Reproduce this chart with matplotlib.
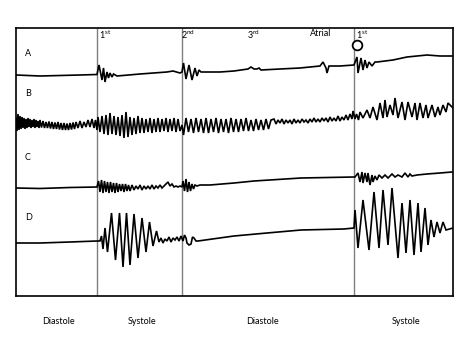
import matplotlib
matplotlib.use('Agg')
import matplotlib.pyplot as plt

plt.rcParams['font.family'] = ['Lato', 'DejaVu Sans']
plt.rcParams['mathtext.fontset'] = 'custom'
plt.rcParams['mathtext.rm'] = 'Lato'

# traces: (time, level) pairs, level grows downward
trace_a = [(16, 75), (40, 76), (60, 75.5), (80, 75), (97, 74.5), (99, 65), (102, 80),
           (103.5, 68), (105, 82), (107, 72), (108.5, 78), (110, 73), (112, 77), (113.5, 74),
           (117, 76), (140, 74), (167, 72), (173, 71), (180, 73), (182, 72), (183.5, 63),
           (186, 79), (189, 65), (192, 80), (195, 68), (197, 76), (199, 70), (201, 72),
           (205, 72), (220, 72), (234, 71), (248, 69), (251, 67), (254, 69), (257, 69),
           (259, 68), (261, 70), (280, 69), (300, 68), (320, 66), (323, 62), (326, 68),
           (327, 73), (329, 66), (340, 66), (354, 65), (357, 57), (358, 73), (361, 58),
           (363, 70), (365, 60), (367, 68), (369, 62), (372, 66), (375, 62), (377, 62),
           (393, 60), (407, 57), (427, 55), (440, 56), (453, 56)]

trace_b = [(16, 118), (17, 131), (18, 114), (19, 130), (20, 116), (21, 129), (22, 117),
           (23, 128), (24, 118), (25, 129), (26, 119), (27, 128), (28, 118), (29, 127),
           (30, 119), (31, 128), (32, 120), (33, 127), (34, 119), (35, 128), (36, 120),
           (37, 127), (38, 121), (39, 128), (40, 120), (41.5, 127.5), (43, 121), (44.5, 128),
           (46, 122), (47.5, 128), (49, 121.5), (50.5, 128.5), (52, 122), (53.5, 129),
           (55, 122.5), (56.5, 129), (58, 122), (59.5, 129.5), (61, 123), (62.5, 130),
           (64, 123), (65.5, 130), (67, 123.5), (68.5, 130), (70, 123), (71.5, 129.5),
           (73, 122.5), (74.5, 129), (76, 122), (78, 128), (80, 121), (82, 128), (84, 122),
           (86, 127), (88, 120), (90, 127), (92, 119), (94, 128), (95.5, 120), (97, 130),
           (98, 117), (100, 132), (102, 116), (104, 134), (106, 115), (108, 135), (110, 113),
           (112, 134), (114, 116), (116, 135), (118, 117), (120, 136), (122, 115), (124, 138),
           (126, 112), (128, 137), (130, 117), (132, 135), (134, 118), (136, 134), (138, 116),
           (140, 133), (142, 118), (144, 133), (146, 119), (148, 132), (150, 118), (152, 133),
           (154, 119), (156, 132), (158, 118), (160, 132), (162, 119), (164, 131), (166, 118),
           (168, 132), (170, 119), (172, 131), (174, 118), (176, 132), (178, 119), (180, 131),
           (182, 125), (183.5, 135), (186, 118), (188.5, 132), (191, 119), (193.5, 133),
           (196, 118), (198.5, 132), (201, 119), (203.5, 133), (206, 118), (208.5, 133),
           (211, 119), (213.5, 132), (216, 118), (218.5, 133), (221, 119), (223.5, 132),
           (226, 119), (228.5, 133), (231, 118), (233.5, 132), (236, 119), (238.5, 132),
           (241, 119), (243.5, 131), (246, 118), (248.5, 131), (251, 120), (253.5, 131),
           (256, 119), (258.5, 130), (261, 120), (263.5, 130), (266, 119), (268.5, 129),
           (271, 120), (274, 119), (276, 124), (278, 120), (280, 123), (282, 119), (284, 124),
           (286, 120), (288, 123), (290, 120), (292, 124), (294, 119), (296, 123), (298, 120),
           (300, 123), (302, 119), (304, 122), (306, 120), (308, 123), (310, 119), (312, 122),
           (314, 118), (316, 122), (318, 119), (320, 122), (322, 118), (324, 121), (326, 118),
           (328, 122), (330, 117), (332, 121), (334, 118), (336, 121), (338, 116), (340, 121),
           (342, 117), (344, 120), (346, 115), (348, 120), (350, 114), (352, 119), (353, 111),
           (355, 119), (356.5, 114), (358.5, 120), (360, 112), (363, 118), (367, 110),
           (370, 118), (373, 107), (377, 120), (380, 103), (383, 118), (385, 100), (387, 117),
           (390, 105), (393, 115), (395, 98), (398, 118), (402, 102), (405, 120), (408, 102),
           (412, 117), (415, 103), (417, 120), (420, 103), (423, 118), (426, 105), (428, 118),
           (432, 105), (435, 117), (438, 107), (440, 115), (443, 105), (446, 112), (448, 103),
           (452, 107), (453, 108)]

trace_c = [(16, 188), (40, 188.5), (70, 187.5), (97, 187), (98.5, 181), (100, 192),
           (101.5, 180), (103, 193), (104.5, 181), (106, 192), (107.5, 182), (109, 193),
           (110.5, 182), (112, 192), (113.5, 183), (115, 193), (116.5, 183), (118, 192),
           (119.5, 184), (121, 191), (122.5, 184), (124, 192), (125.5, 184), (127, 191),
           (128.5, 185), (130, 191), (132, 185), (134, 190), (136, 186), (138, 189),
           (140, 185), (142, 190), (144, 186), (146, 189), (148, 186), (150, 189), (152, 185),
           (154, 189), (156, 186), (158, 188), (160, 185), (162, 188), (164, 186), (166, 184),
           (168, 182), (170, 186), (172, 184), (174, 187), (176, 186), (178, 187), (180, 186),
           (182, 187), (183, 181), (184.5, 191), (186, 179), (187.5, 192), (189, 182),
           (190.5, 191), (192, 184), (193.5, 189), (195, 185), (197, 186), (200, 185),
           (210, 185), (234, 183), (254, 181), (301, 178), (354, 177), (355, 177), (358, 173),
           (360, 182), (362, 172), (363, 183), (365, 173), (367, 182), (368, 173), (370, 185),
           (372, 175), (373, 182), (375, 176), (377, 180), (379, 175), (382, 178), (385, 175),
           (388, 178), (392, 174), (395, 177), (398, 175), (402, 177), (405, 173), (408, 177),
           (410, 174), (412, 176), (417, 175), (427, 174), (440, 173), (452, 172)]

trace_d = [(16, 243), (40, 243), (70, 242), (97, 241), (100, 241), (101.5, 236), (103, 249),
           (105, 228), (107.5, 252), (111.5, 213), (115.5, 260), (119.5, 213), (123, 267),
           (126.5, 213), (130, 265), (134, 214), (138, 258), (142, 218), (146, 252),
           (149.5, 222), (153, 246), (156.5, 231), (159, 242), (161, 238), (163, 243),
           (165, 239), (167, 241), (169, 237), (171, 242), (173, 238), (175, 240), (177, 237),
           (179, 241), (181, 236), (183, 241), (184.5, 235), (186, 238), (187, 243), (189, 245),
           (191, 244), (192.5, 237), (194, 238), (196, 241), (198, 241), (234, 236), (267, 233),
           (301, 230), (344, 229), (354, 228), (355, 210), (358, 248), (363, 200), (369, 250),
           (374, 192), (379, 248), (383, 190), (388, 245), (392, 188), (398, 258), (402, 203),
           (406, 253), (410, 200), (414, 255), (418, 203), (421, 252), (425, 208), (428, 245),
           (431, 220), (434, 237), (437, 222), (440, 233), (443, 222), (446, 230), (453, 228)]

trace_names = ['A', 'B', 'C', 'D']
trace_label_y = [53, 94, 157, 217]

sound_names = ['1$^{\\mathrm{st}}$', '2$^{\\mathrm{nd}}$', '3$^{\\mathrm{rd}}$', 'Atrial', '1$^{\\mathrm{st}}$']
sound_x = [99, 181, 247, 310, 356]
phase_lines = [97, 182, 354]
phase_names = ['Diastole', 'Systole', 'Diastole', 'Systole']
phase_x = [58, 142, 262, 406]

fig = plt.figure(figsize=(4.68, 3.37), dpi=100)
ax = fig.add_axes([16 / 468, 41 / 337, 437 / 468, 268 / 337])
ax.set_xlim(16, 453)
ax.set_ylim(296, 28)
ax.set_xticks([])
ax.set_yticks([])
for sp in ax.spines.values():
    sp.set_linewidth(1.2)
    sp.set_color('black')

for xv in phase_lines:
    ax.axvline(xv, color='#7f7f7f', lw=1.0, zorder=1)

for pts in [trace_a, trace_b, trace_c, trace_d]:
    xs = [p[0] for p in pts]
    ys = [p[1] for p in pts]
    ax.plot(xs, ys, color='black', lw=1.2, solid_joinstyle='miter', zorder=3)

for name, yv in zip(trace_names, trace_label_y):
    ax.text(25, yv, name, fontsize=6.5, ha='left', va='center')

for name, xv in zip(sound_names, sound_x):
    ax.text(xv, 29, name, fontsize=6.5, ha='left', va='top')

# marker for the second first sound
ax.plot([357], [45], marker='o', ms=7, mfc='white', mec='black', mew=1.3, zorder=4)

for name, xv in zip(phase_names, phase_x):
    ax.text(xv, 321, name, fontsize=6.5, ha='center', va='center', clip_on=False)

fig.savefig('out.png', dpi=100)
